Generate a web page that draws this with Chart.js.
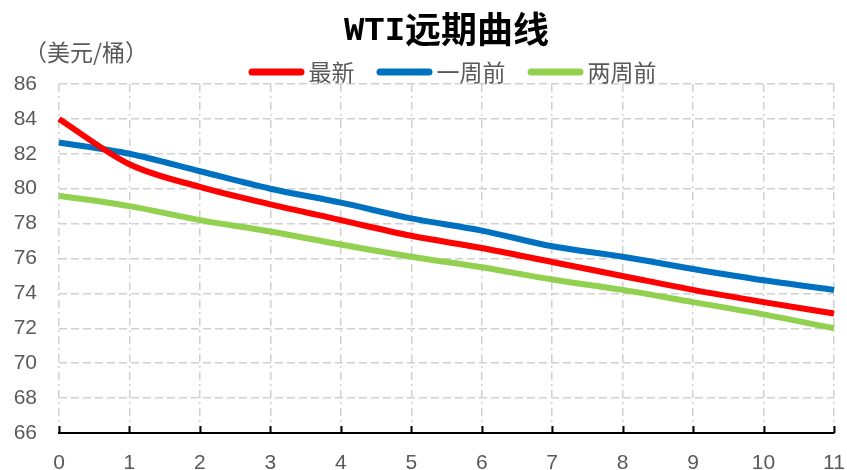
<!DOCTYPE html>
<html>
<head>
<meta charset="utf-8">
<script src="https://cdn.jsdelivr.net/npm/chart.js@4.4.1/dist/chart.umd.min.js"></script>
<style>
  html, body { margin: 0; padding: 0; background: #fff; }
  #wrap { width: 847px; height: 470px; }
</style>
</head>
<body>
<div id="wrap"><canvas id="chart"></canvas></div>
<script>
const months = ["0", "1", "2", "3", "4", "5", "6", "7", "8", "9", "10", "11"];
const latest = [84.0, 81.4, 80.1, 79.1, 78.2, 77.3, 76.6, 75.8, 75.0, 74.2, 73.5, 72.85];
const weekAgo = [82.65, 82.0, 81.0, 80.0, 79.2, 78.3, 77.6, 76.7, 76.1, 75.4, 74.75, 74.2];
const twoWeeksAgo = [79.6, 79.0, 78.2, 77.55, 76.8, 76.1, 75.5, 74.8, 74.2, 73.5, 72.8, 72.0];

const textColor = "#595959";
const gridColor = "#D0D0D0";
const cjk = "'Noto Sans CJK SC', sans-serif";
const tickFont = { family: "'Liberation Sans Narrow', 'Liberation Sans', sans-serif", size: 21 };

// title, unit label, legend (centred on the plot area) and inward x ticks
const extras = {
  id: "extras",
  afterDraw(chart) {
    const ctx = chart.ctx;
    const x = chart.scales.x;
    const area = chart.chartArea;
    const mid = (area.left + area.right) / 2;
    ctx.save();

    // tick marks pointing up from the axis
    ctx.strokeStyle = "#000";
    ctx.lineWidth = 2;
    months.forEach((m, i) => {
      const px = Math.round(x.getPixelForValue(i)) + 0.5;
      ctx.beginPath();
      ctx.moveTo(px, area.bottom);
      ctx.lineTo(px, area.bottom - 7);
      ctx.stroke();
    });

    ctx.textBaseline = "middle";
    ctx.textAlign = "left";

    // title: latin part + chinese part
    const latin = "WTI";
    const han = "远期曲线";
    ctx.font = "bold 34px 'Liberation Mono', monospace";
    const wLatin = ctx.measureText(latin).width;
    ctx.font = "bold 36px " + cjk;
    const wHan = ctx.measureText(han).width;
    let tx = mid - (wLatin + wHan) / 2;
    ctx.fillStyle = "#000";
    ctx.font = "bold 34px 'Liberation Mono', monospace";
    ctx.fillText(latin, tx, 31);
    ctx.font = "bold 36px " + cjk;
    ctx.fillText(han, tx + wLatin, 29);

    // unit
    ctx.fillStyle = textColor;
    ctx.font = "23px " + cjk;
    ctx.fillText("（美元/桶）", 24, 52);

    // legend
    const boxW = 56, boxH = 7, gapText = 4, gapItem = 22;
    ctx.font = "23px " + cjk;
    const items = chart.data.datasets.map((ds) => ({
      label: ds.label,
      color: ds.borderColor,
      w: boxW + gapText + ctx.measureText(ds.label).width,
    }));
    const total = items.reduce((s, it) => s + it.w, 0) + gapItem * (items.length - 1);
    let lx = mid + 6 - total / 2;
    const ly = 72;
    items.forEach((it) => {
      ctx.fillStyle = it.color;
      ctx.beginPath();
      ctx.roundRect(lx, ly - boxH / 2, boxW, boxH, boxH / 2);
      ctx.fill();
      ctx.fillStyle = textColor;
      ctx.fillText(it.label, lx + boxW + gapText, ly);
      lx += it.w + gapItem;
    });
    ctx.restore();
  },
};

new Chart(document.getElementById("chart"), {
  type: "line",
  data: {
    labels: months,
    datasets: [
      { label: "最新", data: latest, borderColor: "#FF0000", backgroundColor: "#FF0000" },
      { label: "一周前", data: weekAgo, borderColor: "#0070C0", backgroundColor: "#0070C0" },
      { label: "两周前", data: twoWeeksAgo, borderColor: "#92D050", backgroundColor: "#92D050" },
    ],
  },
  options: {
    responsive: true,
    maintainAspectRatio: false,
    animation: false,
    layout: { padding: { left: 0, right: 13, top: 84, bottom: 0 } },
    elements: {
      line: { borderWidth: 6, tension: 0.4, cubicInterpolationMode: "monotone", borderCapStyle: "butt" },
      point: { radius: 0 },
    },
    plugins: {
      title: { display: false },
      legend: { display: false },
      tooltip: { enabled: false },
    },
    scales: {
      x: {
        offset: false,
        grid: { color: gridColor, lineWidth: 1.5, drawTicks: false, tickLength: 0 },
        border: { display: true, color: "#000", width: 2, dash: [8, 4, 2, 4] },
        ticks: { color: textColor, font: tickFont, padding: 18, maxRotation: 0 },
        afterFit(scale) {
          scale.height = 37;
          scale.paddingRight = 0;
          scale.paddingLeft = 0;
        },
      },
      y: {
        min: 66,
        max: 86,
        ticks: { stepSize: 2, color: textColor, font: tickFont, padding: 22 },
        grid: { color: gridColor, lineWidth: 1.5, drawTicks: false, tickLength: 0 },
        border: { display: false, dash: [8, 4] },
        afterFit(scale) {
          scale.width = 59;
          scale.paddingTop = 0;
        },
      },
    },
  },
  plugins: [extras],
});
</script>
</body>
</html>
